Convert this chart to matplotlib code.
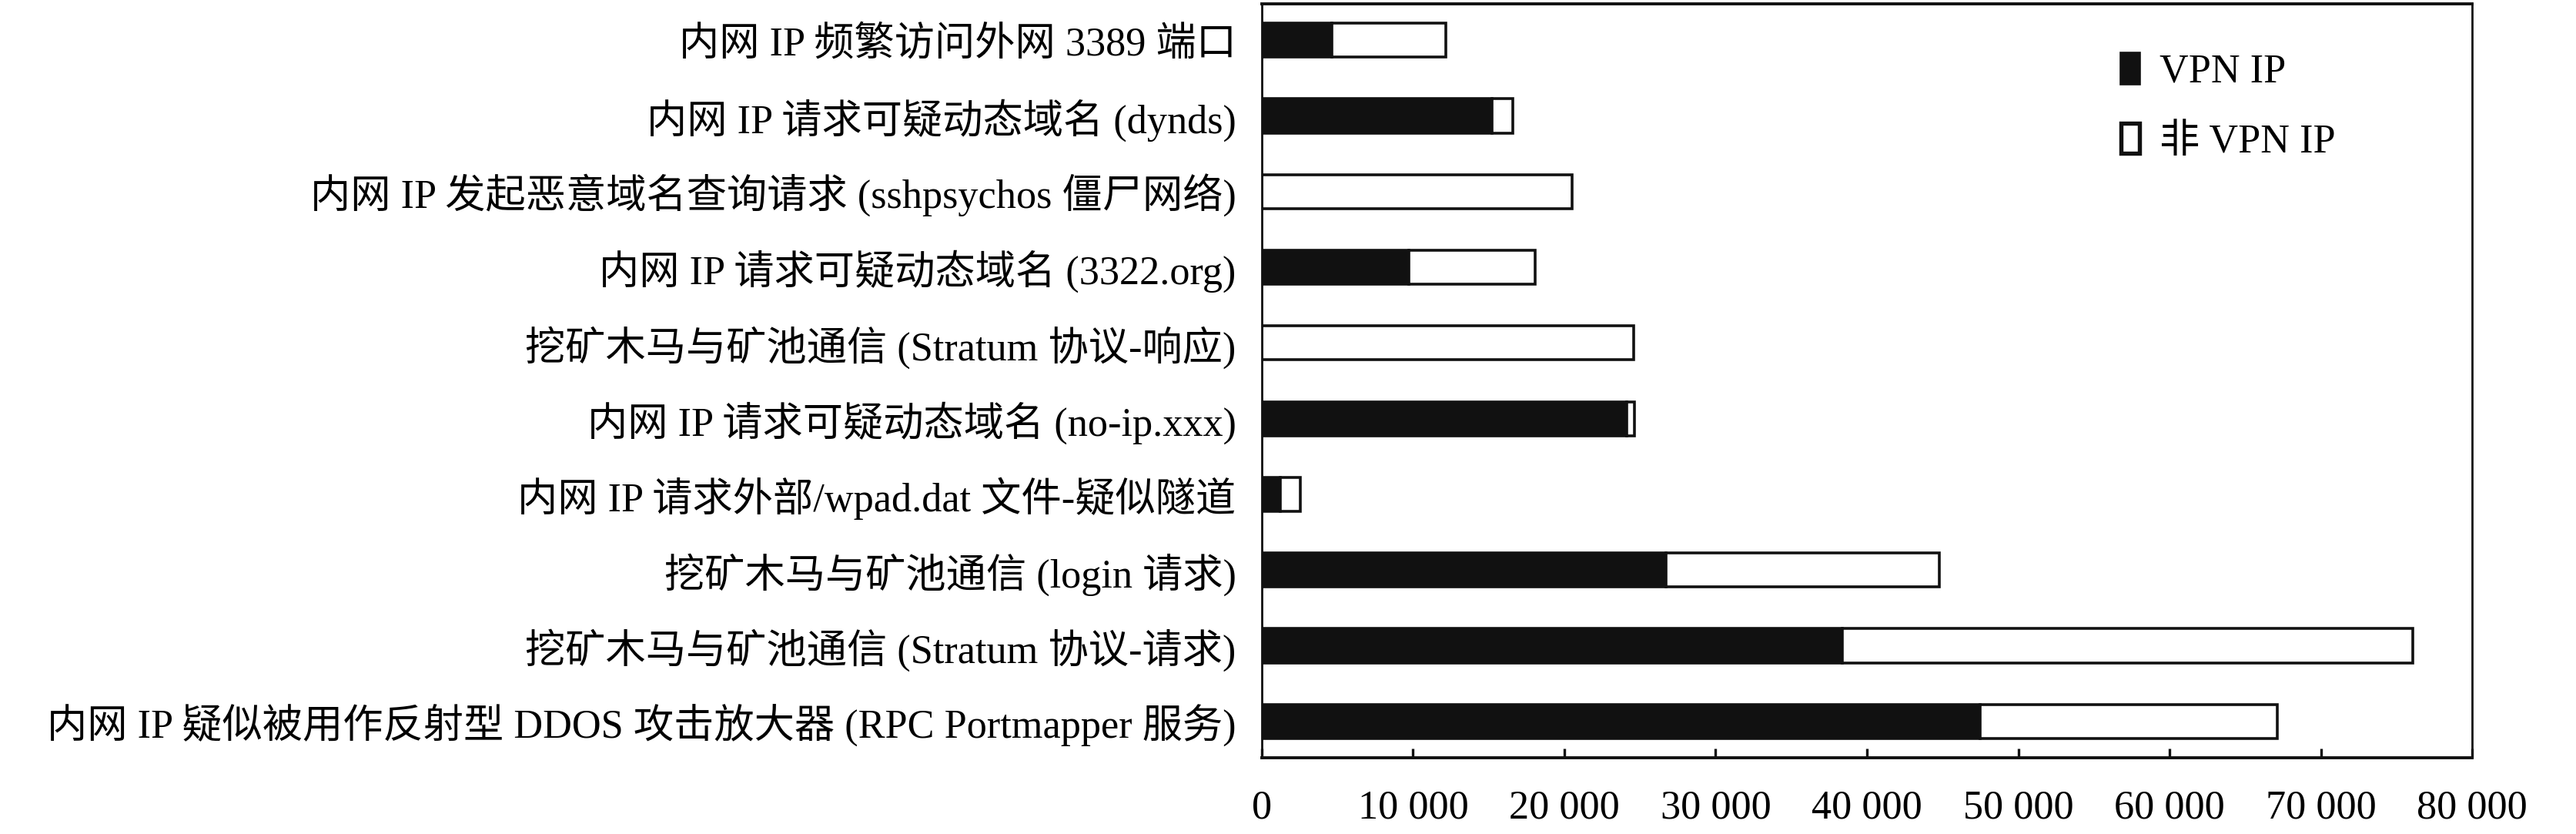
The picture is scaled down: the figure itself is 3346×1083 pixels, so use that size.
import matplotlib
matplotlib.use("Agg")
import matplotlib.pyplot as plt
import numpy as np
from matplotlib.patches import Patch

plt.rcParams["font.family"] = ["Liberation Serif", "Noto Sans CJK SC"]

# categories, top to bottom
categories = [
    "内网 IP 频繁访问外网 3389 端口",
    "内网 IP 请求可疑动态域名 (dynds)",
    "内网 IP 发起恶意域名查询请求 (sshpsychos 僵尸网络)",
    "内网 IP 请求可疑动态域名 (3322.org)",
    "挖矿木马与矿池通信 (Stratum 协议-响应)",
    "内网 IP 请求可疑动态域名 (no-ip.xxx)",
    "内网 IP 请求外部/wpad.dat 文件-疑似隧道",
    "挖矿木马与矿池通信 (login 请求)",
    "挖矿木马与矿池通信 (Stratum 协议-请求)",
    "内网 IP 疑似被用作反射型 DDOS 攻击放大器 (RPC Portmapper 服务)",
]
vpn_ip = [4650, 15200, 0, 9750, 0, 24100, 1250, 26700, 38350, 47500]
non_vpn_ip = [7530, 1400, 20500, 8330, 24600, 550, 1290, 18060, 37700, 19600]
x_ticks = [0, 10000, 20000, 30000, 40000, 50000, 60000, 70000, 80000]
x_tick_labels = ["0", "10 000", "20 000", "30 000", "40 000",
                 "50 000", "60 000", "70 000", "80 000"]

BLACK = "#111111"
FS = 18.8
LW = 1.3

fig = plt.figure(figsize=(16.73, 5.415), dpi=200)
ax = fig.add_axes([0.4898, 0.0914, 0.9597 - 0.4898, 0.9954 - 0.0914])

y = np.arange(len(categories))
ax.barh(y, vpn_ip, height=0.45, color=BLACK, edgecolor=BLACK, linewidth=LW)
ax.barh(y, non_vpn_ip, left=vpn_ip, height=0.45, color="white",
        edgecolor=BLACK, linewidth=LW)

ax.set_xlim(0, 80000)
ax.set_ylim(len(categories) - 0.52, -0.48)
ax.set_yticks(y)
ax.set_yticklabels(categories, fontsize=FS)
ax.tick_params(axis="y", length=0, pad=12)
ax.set_xticks(x_ticks)
ax.set_xticklabels(x_tick_labels, fontsize=FS)
ax.tick_params(axis="x", direction="in", length=4.5, width=1.2, pad=15,
               color=BLACK)

for name, sp in ax.spines.items():
    sp.set_color(BLACK)
    sp.set_linewidth(1.4 if name in ("top", "bottom") else 1.0)

handles = [Patch(facecolor=BLACK, edgecolor=BLACK, linewidth=LW),
           Patch(facecolor="white", edgecolor=BLACK, linewidth=LW * 1.5)]
ax.legend(handles, ["VPN IP", "非 VPN IP"], loc="upper left",
          bbox_to_anchor=(0.71, 0.935), frameon=False, fontsize=FS,
          handlelength=0.45, handleheight=0.8, handletextpad=0.5,
          labelspacing=0.8, borderpad=0, borderaxespad=0)

fig.savefig("out.png", dpi=200)
